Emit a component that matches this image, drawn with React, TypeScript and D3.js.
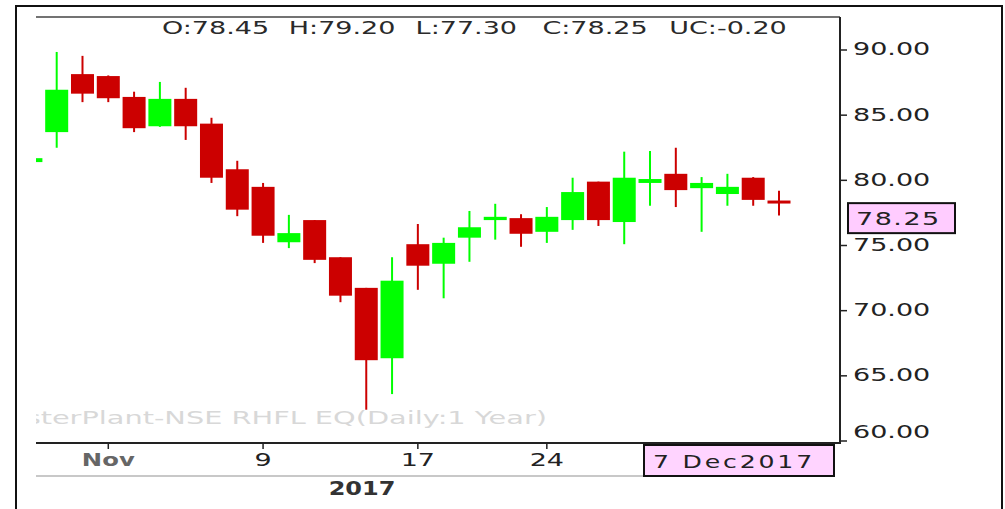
import React, { useRef, useEffect } from 'react';
import * as d3 from 'd3';

// daily candles, 27 Oct - 7 Dec 2017
const dates = [
  '2017-10-27', '2017-10-30', '2017-10-31', '2017-11-01', '2017-11-02', '2017-11-03',
  '2017-11-06', '2017-11-07', '2017-11-08', '2017-11-09', '2017-11-10',
  '2017-11-13', '2017-11-14', '2017-11-15', '2017-11-16', '2017-11-17',
  '2017-11-20', '2017-11-21', '2017-11-22', '2017-11-23', '2017-11-24',
  '2017-11-27', '2017-11-28', '2017-11-29', '2017-11-30', '2017-12-01',
  '2017-12-04', '2017-12-05', '2017-12-06', '2017-12-07',
];
const open = [
  81.4, 83.7, 88.15, 88.0, 86.4, 84.15, 86.25, 84.35, 80.85, 79.5, 75.25,
  76.95, 74.1, 71.75, 66.35, 75.1, 73.6, 75.6, 76.95, 77.1, 76.05,
  76.95, 79.9, 76.8, 79.8, 80.5, 79.4, 78.95, 80.2, 78.45,
];
const high = [
  81.8, 89.85, 89.55, 88.05, 86.8, 87.55, 87.1, 84.8, 81.5, 79.8, 77.35,
  76.95, 74.1, 71.75, 74.1, 76.65, 75.6, 77.65, 78.2, 77.4, 77.95,
  80.2, 79.9, 82.2, 82.25, 82.5, 80.25, 80.5, 80.25, 79.2,
];
const low = [
  81.3, 82.5, 86.0, 86.0, 83.7, 84.1, 83.1, 79.8, 77.25, 75.2, 74.8,
  73.65, 70.65, 62.4, 63.6, 71.6, 70.95, 73.75, 75.45, 74.9, 75.2,
  76.2, 76.5, 75.1, 78.05, 77.95, 76.05, 78.05, 78.05, 77.3,
];
const close = [
  81.7, 86.95, 86.65, 86.3, 84.0, 86.25, 84.15, 80.2, 77.75, 75.75, 75.95,
  73.9, 71.15, 66.2, 72.3, 73.45, 75.2, 76.4, 77.2, 75.9, 77.2,
  79.1, 76.95, 80.2, 80.1, 79.25, 79.8, 79.5, 78.5, 78.25,
];

const priceTicks = [90, 85, 80, 75, 70, 65, 60];
const dateTicks = ['2017-11-01', '2017-11-09', '2017-11-17', '2017-11-24'];
const dateTickLabels = ['Nov', '9', '17', '24'];

const FONT = 'DejaVu Sans, Verdana, sans-serif';
const SX = 1.5; // the original lettering is drawn wide

const CandleChart = () => {
  const ref = useRef<SVGSVGElement>(null);

  useEffect(() => {
    const svg = d3.select(ref.current);
    svg.selectAll('*').remove();

    const left = 36, right = 840, top = 17, bottom = 443;
    const x = d3.scalePoint().domain(dates).range([30.9, 779]);
    const y = d3.scaleLinear().domain([60, 90]).range([441, 50]);
    const bodyW = 23;
    const red = '#cc0000';
    const green = '#00ff00';

    const label = (g, tx, ty, str, opts: any = {}) => {
      const t = g
        .append('g')
        .attr('transform', `translate(${tx},${ty}) scale(${opts.sx ?? SX},1)`)
        .append('text')
        .attr('font-family', FONT)
        .attr('font-size', opts.size ?? 18)
        .attr('font-weight', opts.weight ?? 'normal')
        .attr('fill', opts.fill ?? '#333')
        .attr('text-anchor', opts.anchor ?? 'start')
        .attr('dy', '0.36em')
        .text(str);
      if (opts.ls) t.attr('letter-spacing', opts.ls);
      return t;
    };

    // outer frame
    svg.append('rect').attr('x', 16).attr('y', 6).attr('width', 986).attr('height', 520)
      .attr('fill', '#fff').attr('stroke', '#111').attr('stroke-width', 2);

    svg.append('defs').append('clipPath').attr('id', 'plot-clip')
      .append('rect').attr('x', left).attr('y', top).attr('width', right - left).attr('height', bottom - top);

    const plot = svg.append('g').attr('clip-path', 'url(#plot-clip)');

    // watermark
    label(plot, 547, 418, 'MasterPlant-NSE RHFL EQ(Daily:1 Year)', { anchor: 'end', fill: '#d8d8d8', sx: 1.6 });

    // candles
    dates.forEach((d, i) => {
      const up = close[i] >= open[i];
      const col = up ? green : red;
      const cx = x(d);
      plot.append('line')
        .attr('x1', cx).attr('x2', cx)
        .attr('y1', y(high[i])).attr('y2', y(low[i]))
        .attr('stroke', col).attr('stroke-width', 2);
      const y0 = y(Math.max(open[i], close[i]));
      const y1 = y(Math.min(open[i], close[i]));
      plot.append('rect')
        .attr('x', cx - bodyW / 2).attr('y', y0)
        .attr('width', bodyW).attr('height', Math.max(y1 - y0, 3))
        .attr('fill', col);
    });

    // frame lines of the plot
    svg.append('line').attr('x1', left).attr('x2', right).attr('y1', top).attr('y2', top)
      .attr('stroke', '#444').attr('stroke-width', 1.5);
    svg.append('line').attr('x1', left).attr('x2', right + 1).attr('y1', bottom).attr('y2', bottom)
      .attr('stroke', '#222').attr('stroke-width', 2);
    svg.append('line').attr('x1', right).attr('x2', right).attr('y1', top).attr('y2', bottom)
      .attr('stroke', '#222').attr('stroke-width', 2);
    svg.append('line').attr('x1', left).attr('x2', 644).attr('y1', 476).attr('y2', 476)
      .attr('stroke', '#c8c8c8').attr('stroke-width', 2);

    // header values
    const last = dates.length - 1;
    const header = [
      `O:${open[last].toFixed(2)}`,
      `H:${high[last].toFixed(2)}`,
      `L:${low[last].toFixed(2)}`,
      `C:${close[last].toFixed(2)}`,
      `UC:${(close[last] - open[last]).toFixed(2)}`,
    ];
    header.forEach((h, i) => label(svg, 162 + i * 126.8, 28, h, { fill: '#2a2a2a' }));

    // price axis
    priceTicks.forEach((v) => {
      svg.append('line').attr('x1', right).attr('x2', right + 7)
        .attr('y1', y(v)).attr('y2', y(v)).attr('stroke', '#222').attr('stroke-width', 1.5);
      label(svg, 853, Math.min(y(v) - 1, 432), v.toFixed(2), { fill: '#222' });
    });

    // last price marker
    const cy = y(close[last]);
    svg.append('rect').attr('x', 848).attr('y', cy).attr('width', 107).attr('height', 30)
      .attr('fill', '#ffccff').attr('stroke', '#111').attr('stroke-width', 2);
    label(svg, 856, cy + 15, close[last].toFixed(2), { fill: '#222', ls: 1 });

    // date axis
    dateTicks.forEach((d, i) => {
      const tx = x(d);
      svg.append('line').attr('x1', tx).attr('x2', tx).attr('y1', bottom).attr('y2', bottom + 6)
        .attr('stroke', '#222').attr('stroke-width', 1.5);
      const isMonth = i === 0;
      label(svg, tx, 460, dateTickLabels[i], {
        anchor: 'middle',
        weight: isMonth ? 'bold' : 'normal',
        fill: isMonth ? '#666' : '#222',
        sx: isMonth ? 1.35 : SX,
      });
    });
    label(svg, 362, 488, '2017', { anchor: 'middle', weight: 'bold', fill: '#333', size: 20, sx: 1.2 });

    // last date marker
    svg.append('rect').attr('x', 644).attr('y', 445).attr('width', 190).attr('height', 31)
      .attr('fill', '#ffd4ff').attr('stroke', '#111').attr('stroke-width', 2);
    label(svg, 653, 462, '7 Dec2017', { fill: '#222', ls: 2, sx: 1.4 });
  }, []);

  return (
    <svg
      ref={ref}
      width="1005"
      height="509"
      style={{ position: 'absolute', left: 0, top: 0, background: '#fff' }}
    ></svg>
  );
};

export default function App() {
  return <CandleChart />;
}
